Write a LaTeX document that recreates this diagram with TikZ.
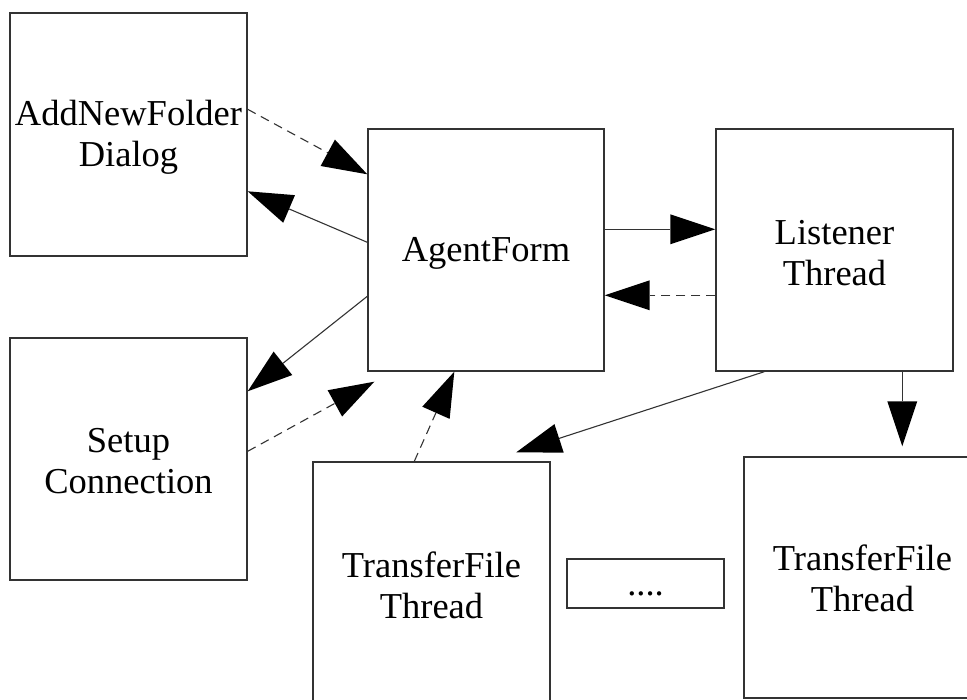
\documentclass[tikz,border=0pt]{standalone}
\usepackage{fontspec}
\setmainfont{Liberation Serif}
\usetikzlibrary{arrows.meta,calc}
\definecolor{edge}{HTML}{333333}
\tikzset{
  x=1pt, y=-1pt,
  box/.style={draw=edge, line width=1.4pt, rectangle, inner sep=0pt,
    minimum width=237pt, minimum height=242pt, align=center,
    font=\fontsize{36.5}{41}\selectfont},
  caption/.style={inner sep=0pt, align=center, font=\fontsize{36.5}{41}\selectfont},
  link/.style={draw=edge, line width=1.1pt,
    -{Triangle[length=45pt, width=30pt, fill=black, line width=0pt]}},
  weak/.style={link, dash pattern=on 9pt off 6pt},
}
\begin{document}
\begin{tikzpicture}
\useasboundingbox (0,0) rectangle (967,700);
\clip (0,0) rectangle (967,700);
\fill[white] (0,0) rectangle (967,700);

% component frames
\node[box, minimum height=243pt] (adf) at (128.5,134.5) {};
\node[box] (su)  at (128.5,459)   {};
\node[box, minimum width=236pt] (af) at (486,250) {};
\node[box] (lt)  at (834.5,250)   {};
\node[box] (tf1) at (431.5,583)   {};
\node[box, minimum height=241pt] (tf2) at (862.5,577.5) {};
\node[box, minimum width=157pt, minimum height=49pt] (dt) at (645.5,583.5) {};

% component captions
\node[caption] (adft) at ($(adf)+(0,3)$) {AddNewFolder\\Dialog};
\node[caption] (sut)  at ($(su)+(0,2)$)  {Setup\\Connection};
\node[caption] (aft)  at ($(af)+(0,3)$)  {AgentForm};
\node[caption] (ltt)  at ($(lt)+(0,3)$)  {Listener\\Thread};
\node[caption] (tf1t) at ($(tf1)+(0,2)$) {TransferFile\\Thread};
\node[caption] (tf2t) at ($(tf2)+(0,1)$) {TransferFile\\Thread};
\node[caption, anchor=base] (dots) at ($(dt)+(0,12)$) {....};

% connectors
\draw[weak] ($(adf.north east)+(0,97)$) -- ($(af.north west)+(0,46)$);
\draw[link] ($(af.north west)+(0,114)$) -- ($(adf.north east)+(0,179)$);
\draw[link] ($(af.north west)+(0,168)$) -- ($(su.north east)+(0,54)$);
\draw[weak] ($(su.north east)+(0,114)$) -- ($(af.south west)+(7,10)$);
\draw[weak] ($(tf1.north west)+(102,0)$) -- ($(af.south west)+(87,0)$);
\draw[link] ($(af.north east)+(0,101)$) -- ($(lt.north west)+(0,101)$);
\draw[weak] ($(lt.north west)+(0,167)$) -- ($(af.north east)+(0,167)$);
\draw[link] ($(lt.south west)+(49,0)$) -- ($(tf1.north west)+(204,-9)$);
\draw[link] ($(lt.south west)+(187,0)$) -- ($(tf2.north west)+(159,-10)$);
\end{tikzpicture}
\end{document}
